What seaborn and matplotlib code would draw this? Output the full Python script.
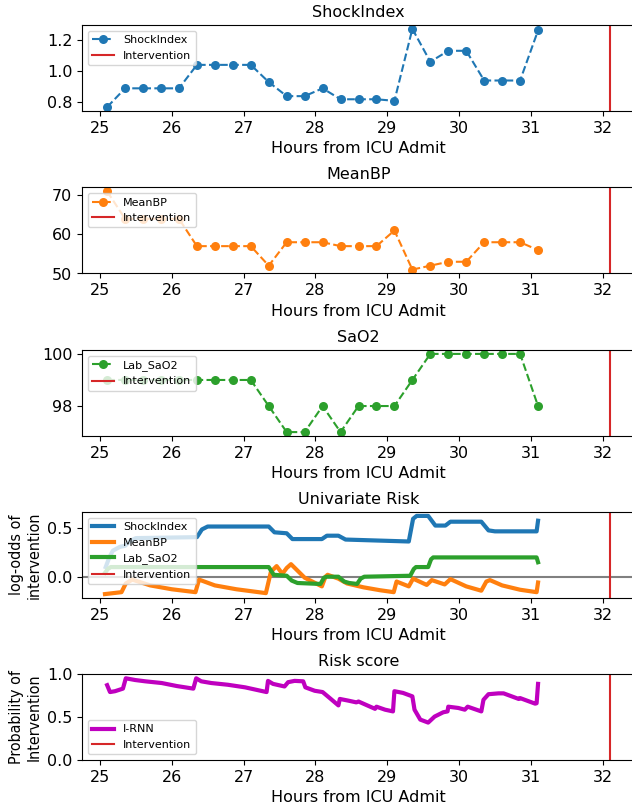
import numpy as np
import pandas as pd
import matplotlib
matplotlib.use("Agg")
import matplotlib.pyplot as plt
import seaborn as sns

# ---------------- data ----------------
hours = [25.1, 25.35, 25.6, 25.85, 26.1, 26.35, 26.6, 26.85, 27.1, 27.35, 27.6, 27.85,
         28.1, 28.35, 28.6, 28.85, 29.1, 29.35, 29.6, 29.85, 30.1, 30.35, 30.6, 30.85, 31.1]
shock_index = [0.77, 0.89, 0.89, 0.89, 0.89, 1.04, 1.04, 1.04, 1.04, 0.93, 0.84, 0.84,
               0.89, 0.82, 0.82, 0.82, 0.81, 1.27, 1.06, 1.13, 1.13, 0.94, 0.94, 0.94, 1.26]
mean_bp = [71, 64, 64, 64, 64, 57, 57, 57, 57, 52, 58, 58,
           58, 57, 57, 57, 61, 51, 52, 53, 53, 58, 58, 58, 56]
lab_sao2 = [99, 99, 99, 99, 99, 99, 99, 99, 99, 98, 97, 97,
            98, 97, 98, 98, 98, 99, 100, 100, 100, 100, 100, 100, 98]
intervention_time = 32.1

# univariate log-odds curves (time, value)
si_t = [25.08, 25.13, 25.18, 25.28, 25.35, 25.42, 25.5, 26.35, 26.42, 26.5, 27.35, 27.43,
        27.6, 27.68, 28.09, 28.16, 28.32, 28.42, 29.3, 29.36, 29.41, 29.57, 29.67, 29.81,
        29.88, 30.31, 30.41, 30.5, 31.08, 31.1]
si_v = [0.10, 0.20, 0.27, 0.31, 0.32, 0.37, 0.40, 0.41, 0.49, 0.52, 0.52, 0.46,
        0.45, 0.39, 0.39, 0.425, 0.425, 0.385, 0.365, 0.60, 0.63, 0.63, 0.53, 0.53,
        0.57, 0.57, 0.48, 0.47, 0.47, 0.58]

bp_t = [25.07, 25.3, 25.36, 25.45, 25.7, 26.0, 26.33, 26.38, 26.6, 26.9, 27.31, 27.38,
        27.46, 27.54, 27.6, 27.66, 27.85, 28.09, 28.14, 28.17, 28.32, 28.44, 28.67, 28.9,
        29.09, 29.13, 29.3, 29.36, 29.55, 29.62, 29.8, 29.88, 30.1, 30.31, 30.38, 30.43,
        30.6, 30.85, 31.08, 31.1]
bp_v = [-0.18, -0.16, -0.07, -0.03, -0.09, -0.13, -0.16, -0.03, -0.09, -0.13, -0.17, 0.05,
        0.11, 0.03, 0.09, 0.13, -0.01, -0.10, 0.00, 0.02, -0.02, -0.07, -0.11, -0.14,
        -0.16, -0.05, -0.10, -0.02, -0.085, -0.035, -0.08, -0.025, -0.10, -0.145, -0.05, -0.035,
        -0.09, -0.135, -0.16, -0.06]

sa_t = [25.07, 25.11, 25.15, 27.35, 27.42, 27.6, 27.67, 27.75, 28.07, 28.12, 28.16, 28.32,
        28.4, 28.47, 28.58, 28.63, 28.68, 29.32, 29.37, 29.4, 29.57, 29.61, 29.64, 31.08, 31.1]
sa_v = [0.04, 0.08, 0.10, 0.10, 0.02, 0.01, -0.04, -0.065, -0.075, -0.01, 0.0, 0.0,
        -0.05, -0.065, -0.075, -0.02, 0.0, 0.01, 0.08, 0.10, 0.10, 0.18, 0.20, 0.20, 0.15]

# I-RNN probability of intervention
rk_t = [25.1, 25.14, 25.21, 25.32, 25.36, 25.49, 25.63, 25.86, 26.07, 26.3, 26.34, 26.41,
        26.55, 26.78, 27.02, 27.32, 27.34, 27.41, 27.57, 27.62, 27.71, 27.83, 27.86, 27.99,
        28.1, 28.2, 28.32, 28.34, 28.46, 28.57, 28.6, 28.83, 28.85, 28.97, 29.08, 29.1,
        29.22, 29.35, 29.38, 29.46, 29.57, 29.66, 29.78, 29.84, 29.85, 29.99, 30.08, 30.12,
        30.31, 30.34, 30.41, 30.55, 30.62, 30.83, 30.85, 31.06, 31.08, 31.1]
rk_v = [0.87, 0.79, 0.80, 0.83, 0.95, 0.93, 0.915, 0.895, 0.86, 0.83, 0.95, 0.915,
        0.895, 0.875, 0.845, 0.79, 0.92, 0.885, 0.855, 0.905, 0.92, 0.915, 0.845, 0.805,
        0.79, 0.72, 0.635, 0.71, 0.69, 0.67, 0.68, 0.595, 0.62, 0.585, 0.565, 0.80,
        0.78, 0.74, 0.585, 0.47, 0.435, 0.505, 0.555, 0.565, 0.62, 0.605, 0.585, 0.62,
        0.565, 0.70, 0.765, 0.775, 0.775, 0.71, 0.72, 0.655, 0.66, 0.885]

shock_ticks = [0.8, 1.0, 1.2]
sao2_ticks = [98, 100]
risk_ticks = [0.0, 0.5, 1.0]
xlabel = "Hours from ICU Admit"

# ---------------- style ----------------
plt.rcParams.update({
    "font.family": ["DejaVu Sans"],
    "font.size": 11.5,
    "axes.titlesize": 11.5,
    "axes.labelsize": 11.5,
    "xtick.labelsize": 11.5,
    "ytick.labelsize": 11.5,
    "legend.fontsize": 8,
})

W, H = 632, 805
fig = plt.figure(figsize=(W / 100, H / 100), dpi=100)
left = 82 / W
width = 553 / W
ax_h = 86
tops = [25, 187.5, 350, 512, 674]
axes = [fig.add_axes([left, 1 - (t + ax_h) / H, width, ax_h / H]) for t in tops]

c_blue, c_orange, c_green = sns.color_palette("tab10")[:3]
red = "#d62728"

def vital_panel(ax, values, color, label, title):
    df = pd.DataFrame({"t": hours, "v": values})
    sns.lineplot(data=df, x="t", y="v", ax=ax, color=color, marker="o", linestyle="--",
                 markersize=6.5, markeredgecolor=color, markeredgewidth=0, lw=1.5,
                 label=label)
    ax.axvline(intervention_time, color=red, lw=1.5, label="Intervention")
    ax.set_title(title)
    ax.set_xlabel(xlabel)
    ax.set_ylabel("")
    ax.legend(loc="upper left")

vital_panel(axes[0], shock_index, c_blue, "ShockIndex", "ShockIndex")
axes[0].set_yticks(shock_ticks)
vital_panel(axes[1], mean_bp, c_orange, "MeanBP", "MeanBP")
vital_panel(axes[2], lab_sao2, c_green, "Lab_SaO2", "SaO2")
axes[2].set_yticks(sao2_ticks)

# Univariate risk
ax = axes[3]
for tt, vv, col, lab in [(si_t, si_v, c_blue, "ShockIndex"),
                         (bp_t, bp_v, c_orange, "MeanBP"),
                         (sa_t, sa_v, c_green, "Lab_SaO2")]:
    sns.lineplot(x=tt, y=vv, ax=ax, color=col, lw=3, label=lab, sort=False)
ax.axhline(0, color="gray", lw=1.5, zorder=0.5)
ax.axvline(intervention_time, color=red, lw=1.5, label="Intervention")
ax.set_title("Univariate Risk")
ax.set_xlabel(xlabel)
ax.set_ylabel("log-odds of\nintervention", fontstretch="condensed")
ax.legend(loc="upper left")

# Risk score
ax = axes[4]
sns.lineplot(x=rk_t, y=rk_v, ax=ax, color="m", lw=3, label="I-RNN", sort=False)
ax.axvline(intervention_time, color=red, lw=1.5, label="Intervention")
ax.set_ylim(0, 1)
ax.set_yticks(risk_ticks)
ax.set_title("Risk score")
ax.set_xlabel(xlabel)
ax.set_ylabel("Probability of\nIntervention", fontstretch="condensed")
ax.legend(loc="lower left")

for ax in axes:
    ax.set_xlim(24.75, 32.45)

fig.savefig("out.png", dpi=100)
